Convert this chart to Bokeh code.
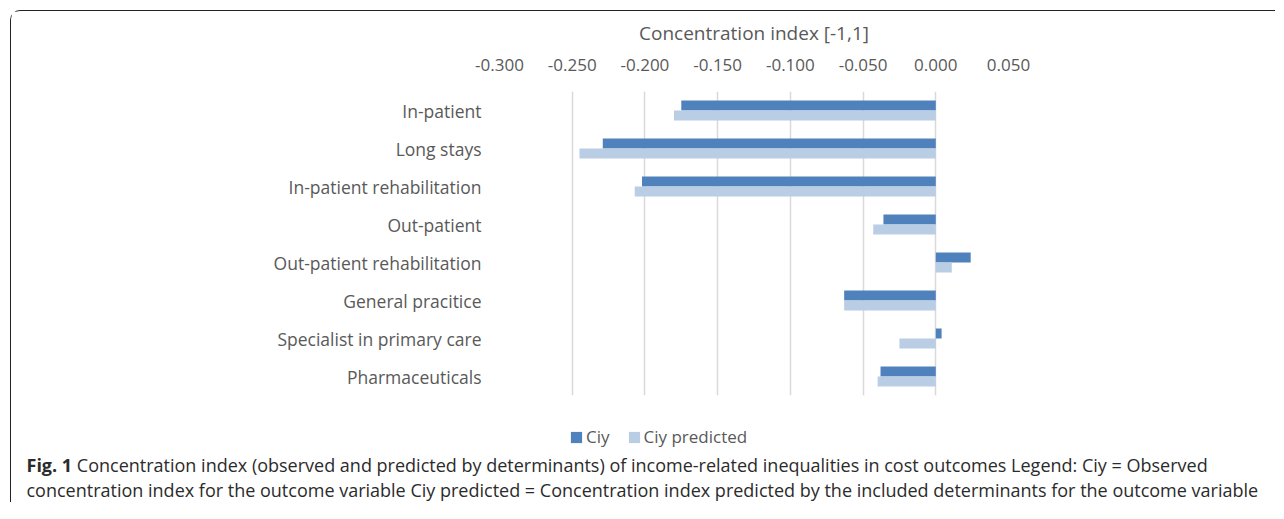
from bokeh.plotting import figure
from bokeh.layouts import column
from bokeh.models import (FactorRange, Range1d, FixedTicker, NumeralTickFormatter,
                          Legend, LegendItem, Div, ColumnDataSource)
from bokeh.transform import dodge
from bokeh.embed import file_html
from bokeh.resources import INLINE

categories = ["In-patient", "Long stays", "In-patient rehabilitation", "Out-patient",
              "Out-patient rehabilitation", "General pracitice",
              "Specialist in primary care", "Pharmaceuticals"]
ciy = [-0.175, -0.229, -0.202, -0.036, 0.024, -0.063, 0.004, -0.038]
ciy_predicted = [-0.180, -0.245, -0.207, -0.043, 0.011, -0.063, -0.025, -0.040]
tick_values = [-0.30, -0.25, -0.20, -0.15, -0.10, -0.05, 0.0, 0.05]
series_names = ["Ciy", "Ciy predicted"]
x_label = "Concentration index [-1,1]"
caption_bold = "Fig. 1"
caption_line1 = ("Concentration index (observed and predicted by determinants) of income-related "
                 "inequalities in cost outcomes Legend: Ciy = Observed")
caption_line2 = ("concentration index for the outcome variable Ciy predicted = Concentration index "
                 "predicted by the included determinants for the outcome variable")

DARK = "#4F81BD"
LIGHT = "#B9CDE5"
TXT = "#595959"
CAP = "#2b2b2b"
FONT = "Open Sans"

src = ColumnDataSource(dict(cat=categories, ciy=ciy, pred=ciy_predicted))

W = 1264
p = figure(width=W, height=398,
           y_range=FactorRange(factors=list(reversed(categories)), range_padding=0),
           x_range=Range1d(-0.3, 0.05), x_axis_location="above",
           output_backend="svg", toolbar_location=None,
           min_border_left=488, min_border_right=267, min_border_top=80, min_border_bottom=14)
p.outline_line_color = None

r1 = p.hbar(y=dodge("cat", 0.132, range=p.y_range), left=0, right="ciy", height=0.263,
            fill_color=DARK, line_color=None, source=src)
r2 = p.hbar(y=dodge("cat", -0.132, range=p.y_range), left=0, right="pred", height=0.263,
            fill_color=LIGHT, line_color=None, source=src)

p.ygrid.visible = False
p.xgrid.ticker = FixedTicker(ticks=tick_values)
p.xgrid.grid_line_color = "#D9D9D9"
p.xgrid.grid_line_width = 1.5

xa = p.xaxis[0]
xa.ticker = FixedTicker(ticks=tick_values)
xa.formatter = NumeralTickFormatter(format="0.000")
xa.axis_line_color = None
xa.major_tick_line_color = None
xa.minor_tick_line_color = None
xa.major_tick_out = 0
xa.major_tick_in = 0
xa.major_label_text_font = FONT
xa.major_label_text_font_size = "17px"
xa.major_label_text_color = TXT
xa.major_label_standoff = 21
xa.axis_label = x_label
xa.axis_label_text_font = FONT
xa.axis_label_text_font_size = "19px"
xa.axis_label_text_font_style = "normal"
xa.axis_label_text_color = TXT
xa.axis_label_standoff = 10

ya = p.yaxis[0]
ya.axis_line_color = None
ya.major_tick_line_color = None
ya.minor_tick_line_color = None
ya.major_tick_out = 0
ya.major_tick_in = 0
ya.major_label_text_font = FONT
ya.major_label_text_font_size = "17.5px"
ya.major_label_text_color = TXT
ya.major_label_standoff = 18

# legend strip (its frame lines up with the chart frame above); the key
# renderers hold a single zero-size bar so that only their legend swatch shows
q = figure(width=W, height=44, x_range=Range1d(0, 1), y_range=Range1d(0, 1),
           output_backend="svg", toolbar_location=None,
           min_border_left=0, min_border_right=0, min_border_top=0, min_border_bottom=0)
q.axis.visible = False
q.grid.visible = False
q.outline_line_color = None
k1 = q.hbar(y=[0], left=[0], right=[0], height=0, fill_color=DARK, line_color=None)
k2 = q.hbar(y=[0], left=[0], right=[0], height=0, fill_color=LIGHT, line_color=None)
legend = Legend(items=[LegendItem(label=series_names[0], renderers=[k1]),
                       LegendItem(label=series_names[1], renderers=[k2])],
                orientation="horizontal", location=(70, 5),
                glyph_width=14, glyph_height=14, label_standoff=3, spacing=17,
                label_height=20, padding=0, margin=0, border_line_color=None,
                background_fill_alpha=0,
                label_text_font=FONT, label_text_font_size="17px", label_text_color=TXT)
q.add_layout(legend)

caption = Div(text=(f"<b>{caption_bold}</b> {caption_line1}<br>{caption_line2}"),
              width=W, height=49, margin=0,
              styles={"font-family": "Open Sans", "font-size": "18px", "color": CAP,
                      "line-height": "25px", "white-space": "nowrap",
                      "padding-left": "15.5px", "box-sizing": "border-box"})

layout = column(p, q, caption, margin=(10, 0, 0, 10),
                styles={"border-left": "1.5px solid #222222",
                        "border-top": "1.5px solid #222222",
                        "border-top-left-radius": "10px"})

open("out.html", "w").write(file_html(layout, INLINE))
